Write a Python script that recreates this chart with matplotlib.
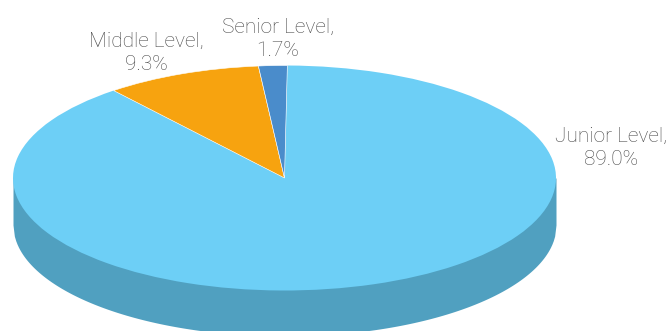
import numpy as np
import matplotlib
matplotlib.use("Agg")
import matplotlib.pyplot as plt

# values as printed on the chart
labels = ["Junior Level", "Middle Level", "Senior Level"]
shares = [89.0, 9.3, 1.7]
colors = ["#6DCFF6", "#F7A30F", "#4A8CCB"]
side_color = "#50A0C0"

W, H = 668, 331
plt.rcParams["font.family"] = "Roboto"

fig = plt.figure(figsize=(W / 100, H / 100), dpi=100)
ax = fig.add_axes([0, 0, 1, 1])

cx, cy = 284.5, 178
rx, ry = 271.5, 112.5
# the bottom rim is a bit flatter than the top face
rim_cy, rim_ry = 225, 111

# side wall first, top face goes over it
t = np.linspace(-1, 1, 400)
ax.fill_between(cx + rx * t, cy, rim_cy + rim_ry * np.sqrt(1 - t ** 2),
                color=side_color, lw=0)

# pie draws a unit circle, so scale it into the ellipse
wedges, _ = ax.pie(shares, colors=colors, startangle=89.4, counterclock=False,
                   frame=False, normalize=True)
ax.set_aspect("auto")
ax.set_xlim(0, W)
ax.set_ylim(H, 0)
ax.axis("off")
scale = matplotlib.transforms.Affine2D().scale(rx, -ry).translate(cx, cy)
for w in wedges:
    w.set_transform(scale + ax.transData)
    w.set_linewidth(0)
# only the two small slices have a pale seam
for w in wedges[1:]:
    w.set_edgecolor("#FFFFFF")
    w.set_linewidth(0.4)

txt = dict(color="#4A4A4A", fontsize=15, fontweight="light", ha="center",
           va="center", linespacing=1.33)
ax.text(611, 148, f"{labels[0]},\n{shares[0]:.1f}%", **txt)
ax.text(146, 53, f"{labels[1]},\n{shares[1]:.1f}%", **txt)
ax.text(278, 39, f"{labels[2]},\n{shares[2]:.1f}%", **txt)

fig.savefig("out.png", dpi=100)
